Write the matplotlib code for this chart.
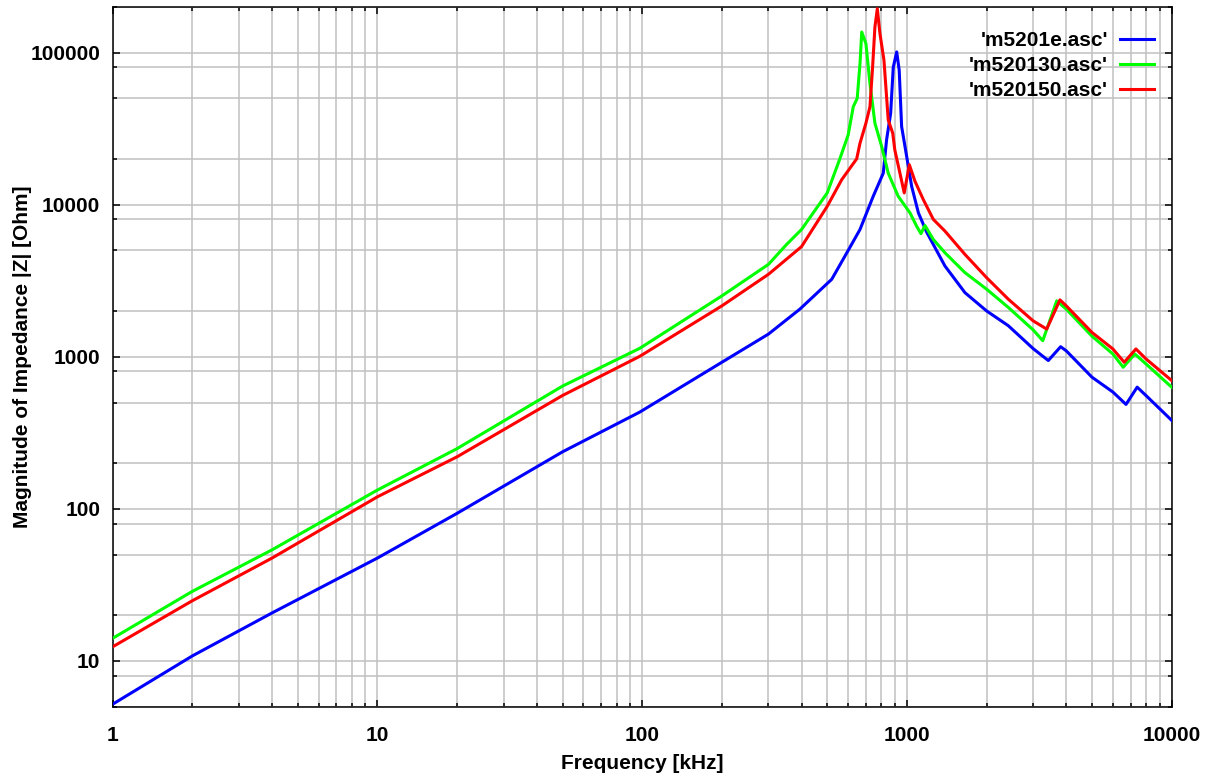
import numpy as np
import matplotlib
matplotlib.use("Agg")
import matplotlib.pyplot as plt
from matplotlib.ticker import LogLocator, FuncFormatter, NullFormatter

# frequency [kHz] / |Z| [Ohm]
freq_e = [1, 2, 4, 10, 20, 50, 98, 200, 300, 394, 520, 600, 665, 746, 814, 838, 868,
          888, 915, 935, 955, 998, 1042, 1105, 1187, 1392, 1656, 2000, 2415, 3000,
          3420, 3808, 4000, 5000, 6000, 6724, 7410, 8000, 10000]
z_e = [5.2, 10.8, 20.7, 47.5, 93.5, 237, 433, 920, 1410, 2055, 3230, 5000, 6870, 11350,
       16100, 26700, 39800, 80000, 100900, 76600, 32600, 20700, 13200, 8830, 6600, 3950,
       2640, 2000, 1600, 1130, 944, 1164, 1093, 734, 586, 486, 631, 556, 382]

freq_130 = [1, 2, 4, 10, 20, 50, 98, 200, 300, 351, 400, 500, 558, 600, 627, 649, 665,
            675, 700, 725, 757, 803, 850, 927, 1027, 1088, 1130, 1170, 1258, 1392, 1656,
            2000, 2415, 3000, 3260, 3680, 4000, 5000, 6000, 6560, 7260, 8000, 10000]
z_130 = [14.1, 28.7, 53.8, 133, 249, 641, 1137, 2512, 4050, 5470, 6870, 11940, 20000,
         28750, 44000, 50000, 84700, 136400, 114600, 62700, 34300, 24100, 16100, 11350,
         8830, 7220, 6440, 7290, 5900, 4830, 3575, 2780, 2110, 1500, 1275, 2330, 2055,
         1365, 1042, 853, 1042, 897, 631]

freq_150 = [1, 2, 4, 10, 20, 50, 98, 200, 300, 400, 500, 567, 646, 665, 700, 725, 742,
            757, 773, 791, 819, 850, 884, 900, 941, 977, 1021, 1073, 1153, 1258, 1392,
            1656, 2000, 2415, 3000, 3373, 3785, 4000, 5000, 6000, 6620, 7330, 8000, 10000]
z_150 = [12.4, 24.9, 47.5, 120, 220, 556, 1007, 2160, 3485, 5300, 9750, 14580, 20000,
         25370, 34300, 44000, 80500, 147000, 194000, 133000, 89000, 36000, 29500, 22900,
         16100, 11940, 18300, 14220, 10800, 8000, 6700, 4710, 3310, 2390, 1720, 1520,
         2365, 2160, 1445, 1125, 920, 1125, 968, 698]

labels = ["'m5201e.asc'", "'m520130.asc'", "'m520150.asc'"]
colors = ["#0000ff", "#00ff00", "#ff0000"]

plt.rcParams["font.family"] = ["Liberation Sans", "DejaVu Sans"]
plt.rcParams["font.weight"] = "bold"
plt.rcParams["font.size"] = 15

fig = plt.figure(figsize=(12.11, 7.74), dpi=100)
ax = fig.add_axes([0.0931, 0.0869, 0.8744, 0.9044])

for f, z, lab, c in zip([freq_e, freq_130, freq_150], [z_e, z_130, z_150], labels, colors):
    ax.plot(f, z, color=c, lw=2.2, label=lab, zorder=3)

ax.set_xscale("log")
ax.set_yscale("log")
ax.set_xlim(1, 10000)
ax.set_ylim(5, 200000)

ax.xaxis.set_major_locator(LogLocator(base=10, subs=[1.0]))
ax.xaxis.set_minor_locator(LogLocator(base=10, subs=np.arange(2, 10), numticks=50))
ax.yaxis.set_major_locator(LogLocator(base=10, subs=[1.0]))
ax.yaxis.set_minor_locator(LogLocator(base=10, subs=[2, 5, 8], numticks=50))
fmt = FuncFormatter(lambda v, _: f"{int(round(v))}")
ax.xaxis.set_major_formatter(fmt)
ax.yaxis.set_major_formatter(fmt)
ax.xaxis.set_minor_formatter(NullFormatter())
ax.yaxis.set_minor_formatter(NullFormatter())

ax.grid(True, which="both", color="#c0c0c0", lw=1.1, zorder=0)
ax.set_axisbelow(True)

ax.tick_params(which="both", direction="in", top=True, right=True, width=1.1)
ax.tick_params(which="major", length=5)
ax.tick_params(which="minor", length=3)
ax.tick_params(axis="x", which="major", pad=14)
ax.tick_params(axis="y", which="major", pad=9)
for s in ax.spines.values():
    s.set_linewidth(1.1)

ax.set_xlabel("Frequency [kHz]", fontweight="bold", labelpad=6)
ax.set_ylabel("Magnitude of Impedance |Z| [Ohm]", fontweight="bold", labelpad=-1)

ax.legend(loc="upper right", bbox_to_anchor=(0.983, 0.965), frameon=False,
          markerfirst=False, handlelength=1.6, handletextpad=0.6,
          labelspacing=0.28, borderpad=0, borderaxespad=0)

fig.savefig("out.png", dpi=100)
